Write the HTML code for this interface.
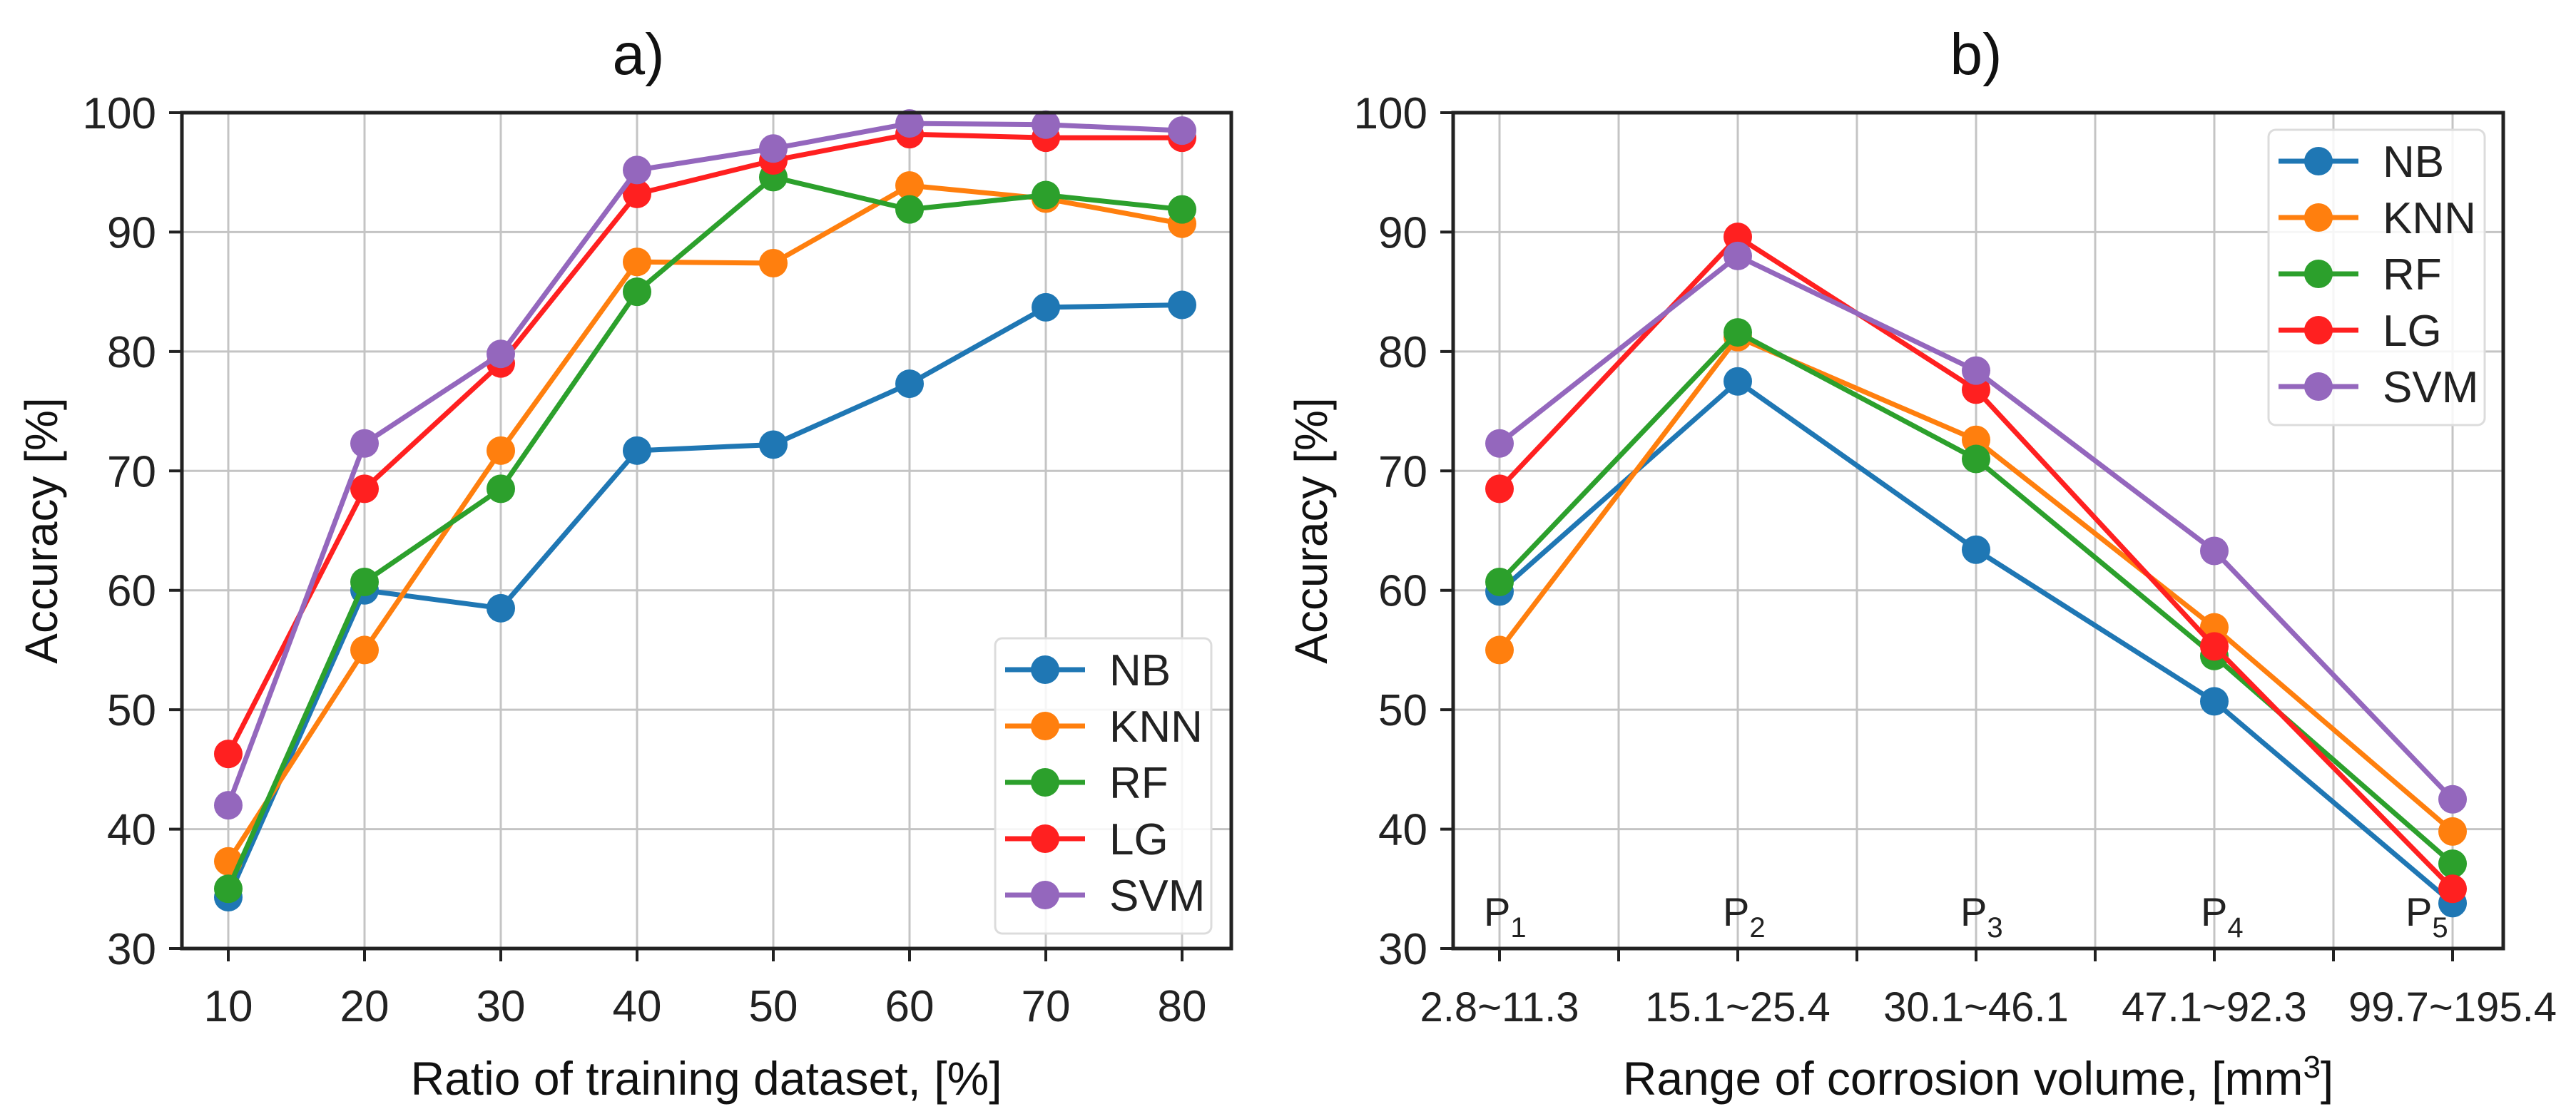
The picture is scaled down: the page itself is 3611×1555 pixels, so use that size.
<!DOCTYPE html>
<html><head><meta charset="utf-8">
<style>
html,body{margin:0;padding:0;background:#fff;}
svg{display:block;font-family:"Liberation Sans","DejaVu Sans",sans-serif;}
</style></head>
<body>
<svg id="fig" width="3611" height="1555" viewBox="0 0 3611 1555" xmlns="http://www.w3.org/2000/svg"></svg>
<script>
const seriesNames = ["NB","KNN","RF","LG","SVM"];
const seriesColors = ["#1f77b4","#ff7f0e","#2ca02c","#ff2020","#9467bd"];
const yTicks = [30,40,50,60,70,80,90,100];
// chart a
const aCategories = [10,20,30,40,50,60,70,80];
const aNB  = [34.3,60.0,58.5,71.7,72.2,77.3,83.7,83.9];
const aKNN = [37.3,55.0,71.7,87.5,87.4,93.9,92.8,90.7];
const aRF  = [35.0,60.7,68.5,85.0,94.6,91.9,93.1,91.9];
const aLG  = [46.3,68.5,79.0,93.2,96.0,98.2,97.9,97.9];
const aSVM = [42.0,72.3,79.8,95.2,97.0,99.1,99.0,98.5];
// chart b
const bCategories = ["2.8~11.3","15.1~25.4","30.1~46.1","47.1~92.3","99.7~195.4"];
const bPoints = ["1","2","3","4","5"];
const bNB  = [59.9,77.5,63.4,50.7,33.8];
const bKNN = [55.0,81.2,72.6,56.9,39.8];
const bRF  = [60.7,81.6,71.0,54.5,37.1];
const bLG  = [68.5,89.6,76.8,55.3,35.0];
const bSVM = [72.3,88.0,78.4,63.3,42.5];

const NS="http://www.w3.org/2000/svg";
const svg=document.getElementById('fig');
function mk(tag,attrs,parent){const e=document.createElementNS(NS,tag);for(const k in attrs)e.setAttribute(k,attrs[k]);(parent||svg).appendChild(e);return e;}

const plotTop=158,plotBot=1330;
function yS(v){return plotBot-(v-30)/(100-30)*(plotBot-plotTop);}

function drawChart(id,L,R,xPos,labels,seriesData,opts){
  const g=mk('g',{});
  
  
  yTicks.forEach(t=>{
    const l=mk('line',{x1:L,x2:R,y1:yS(t),y2:yS(t),stroke:'#c4c4c4','stroke-width':3},g);
    
    
  });
  opts.gridX.forEach(x=>{
    const l=mk('line',{x1:x,x2:x,y1:plotTop,y2:plotBot,stroke:'#c4c4c4','stroke-width':3},g);
    
    
    const tk=mk('line',{x1:x,x2:x,y1:plotBot,y2:plotBot+18,stroke:'#222','stroke-width':4},g);
    
    
  });
  yTicks.forEach(t=>{
    const tk=mk('line',{x1:L-18,x2:L,y1:yS(t),y2:yS(t),stroke:'#222','stroke-width':4},g);
    
    
    const tx=mk('text',{x:L-36,y:yS(t)+22,'text-anchor':'end','font-size':62,fill:'#222'},g);
    tx.textContent=t;
    
    
  });
  labels.forEach((lab,i)=>{
    const tx=mk('text',{x:xPos(i),y:1432,'text-anchor':'middle','font-size':opts.xFont,fill:'#222'},g);
    tx.textContent=lab;
    
    
  });
  seriesData.forEach((vals,s)=>{
    const sg=mk('g',{},g);
    
    
    const pts=vals.map((v,i)=>xPos(i)+','+yS(v)).join(' ');
    const pl=mk('polyline',{points:pts,fill:'none',stroke:seriesColors[s],'stroke-width':7,'stroke-linejoin':'round'},sg);
    
    
    vals.forEach((v,i)=>{
      const c=mk('circle',{cx:xPos(i),cy:yS(v),r:20,fill:seriesColors[s]},sg);
      
      
    });
  });
  const fr=mk('rect',{x:L,y:plotTop,width:R-L,height:plotBot-plotTop,fill:'none',stroke:'#222','stroke-width':5},g);
  
  
  const lg=mk('g',{},g);
  
  
  const box=mk('rect',{x:opts.legX,y:opts.legY,width:303,height:414,rx:10,fill:'rgba(255,255,255,0.85)',stroke:'#dcdcdc','stroke-width':3},lg);
  
  
  seriesNames.forEach((n,s)=>{
    const ey=opts.legY+44+s*79;
    const e=mk('g',{},lg);
    
    
    mk('line',{x1:opts.legX+14,x2:opts.legX+126,y1:ey,y2:ey,stroke:seriesColors[s],'stroke-width':7},e);
    mk('circle',{cx:opts.legX+70,cy:ey,r:20,fill:seriesColors[s]},e);
    const t=mk('text',{x:opts.legX+160,y:ey+22,'font-size':62,fill:'#222'},e);
    t.textContent=n;
  });
}

const aScale=i=>320+(aCategories[i]-10)/10*191;
drawChart('a',255,1726,aScale,aCategories.map(String),[aNB,aKNN,aRF,aLG,aSVM],
  {gridX:aCategories.map((c,i)=>aScale(i)),xFont:62,legX:1395,legY:895});
const bScale=i=>2102+i*334;
drawChart('b',2037,3509,bScale,bCategories,[bNB,bKNN,bRF,bLG,bSVM],
  {gridX:[0,0.5,1,1.5,2,2.5,3,3.5,4].map(k=>2102+k*334),xFont:58,legX:3180,legY:182});

const pX=[2080,2415,2748,3085,3372];
bPoints.forEach((p,i)=>{
  const t=mk('text',{x:pX[i],y:1298,'font-size':56,fill:'#222'});
  
  
  t.textContent='P';
  const sub=mk('tspan',{dy:16,'font-size':40},t);
  sub.textContent=p;
});

function txt(name,x,y,size,str,extra){
  const t=mk('text',Object.assign({x:x,y:y,'font-size':size,fill:'#111','text-anchor':'middle'},extra||{}));
  t.textContent=str;
  
  
  return t;
}
txt('title-a',895,104,82,'a)');
txt('title-b',2770,104,82,'b)');
txt('x-axis-title-a',990,1535,66,'Ratio of training dataset, [%]');
const xbt=txt('x-axis-title-b',2773,1535,66,'Range of corrosion volume, [mm');
const sup=mk('tspan',{dy:-24,'font-size':44},xbt);sup.textContent='3';
const cl=mk('tspan',{dy:24},xbt);cl.textContent=']';
txt('y-axis-title-a',0,0,64,'Accuracy [%]',{transform:'translate(80,744) rotate(-90)'});
txt('y-axis-title-b',0,0,64,'Accuracy [%]',{transform:'translate(1860,744) rotate(-90)'});
</script>
</body></html>
